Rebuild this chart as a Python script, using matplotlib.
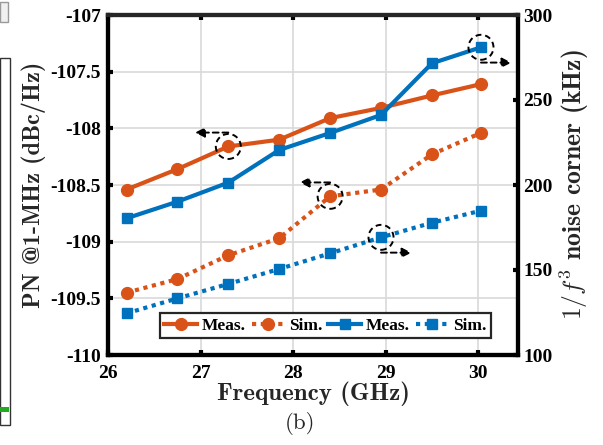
import matplotlib
matplotlib.use("Agg")
import matplotlib.pyplot as plt
from matplotlib.patches import Circle, Rectangle
from matplotlib.transforms import ScaledTranslation, offset_copy
from matplotlib.lines import Line2D
from matplotlib.font_manager import FontProperties

freq = [26.2, 26.75, 27.3, 27.85, 28.4, 28.95, 29.5, 30.03]
pn_meas = [-108.54, -108.36, -108.16, -108.10, -107.91, -107.82, -107.71, -107.61]
pn_sim = [-109.45, -109.33, -109.12, -108.97, -108.60, -108.54, -108.23, -108.04]
fc_meas = [180.4, 190.2, 201.4, 220.6, 230.6, 241.2, 271.6, 281.0]
fc_sim = [124.5, 133.3, 141.8, 150.6, 159.8, 169.2, 177.8, 184.9]
xticks = [26, 27, 28, 29, 30]
yticks_left = [-110, -109.5, -109, -108.5, -108, -107.5, -107]
ylabels_left = ['-110', '-109.5', '-109', '-108.5', '-108', '-107.5', '-107']
yticks_right = [100, 150, 200, 250, 300]
legend_labels = ['Meas.', 'Sim.', 'Meas.', 'Sim.']

ORANGE = '#D95319'
BLUE = '#0072BD'
plt.rcParams['mathtext.fontset'] = 'cm'

fig = plt.figure(figsize=(6.03, 4.45), dpi=100)
ax = fig.add_axes([108/603, 1-355/445, 410/603, 340/445])
ax2 = ax.twinx()

dotted = (0, (1, 1.1))
ax.plot(freq, pn_meas, '-o', color=ORANGE, lw=3, ms=8.5, zorder=3)
ax.plot(freq, pn_sim, linestyle=dotted, marker='o', color=ORANGE, lw=3, ms=8.5, zorder=3)
ax2.plot(freq, fc_meas, '-s', color=BLUE, lw=3, ms=7.5, zorder=3)
ax2.plot(freq, fc_sim, linestyle=dotted, marker='s', color=BLUE, lw=3, ms=7.5, zorder=3)

ax.set_xlim(26, 30.43)
ax.set_ylim(-110, -107)
ax2.set_ylim(100, 300)
ax.set_xticks(xticks)
ax.set_yticks(yticks_left)
ax.set_yticklabels(ylabels_left)
ax2.set_yticks(yticks_right)

ax.grid(True, color='#d9d9d9', lw=1.2, zorder=0)
ax.set_axisbelow(True)

tickfp = FontProperties(family='Liberation Serif', weight='bold', size=14)
for a in (ax, ax2):
    for lab in a.get_xticklabels() + a.get_yticklabels():
        lab.set_fontproperties(tickfp)
    for s in a.spines.values():
        s.set_linewidth(3)
        s.set_color('black')
    a.spines['top'].set_color('#262626')
ax.tick_params(axis='both', direction='in', length=3.5, width=3, pad=5, top=True, colors='black')
ax.tick_params(axis='x', pad=7)
ax2.tick_params(axis='y', direction='in', length=3.5, width=3, pad=4)

ax.set_xlabel('Frequency (GHz)', labelpad=0, family='cmb10', size=18, color='#262626')
ax.set_ylabel('PN @1-MHz (dBc/Hz)', labelpad=3, family='cmb10', size=17.5, color='#262626')
ax2.set_ylabel(r'$1/f^3$ noise corner (kHz)', labelpad=3,
               family='cmb10', size=18.5, color='#262626')
fig.text(0.497, 0.049, '(b)', ha='center', va='center', family='cmr10', size=16.5, color='#262626')

# annotations: dashed circles with arrows
def mark(a, x, y, dx_tail, dy, dx_head):
    tr = fig.dpi_scale_trans + ScaledTranslation(x, y, a.transData)
    c = Circle((0, 0), 0.125, transform=tr, fill=False, ec='black', lw=1.4, ls=(0, (3, 2)), zorder=6)
    fig.add_artist(c)
    a.annotate('', xy=(x, y), xytext=(x, y),
               xycoords=offset_copy(a.transData, fig=fig, x=dx_head, y=dy, units='points'),
               textcoords=offset_copy(a.transData, fig=fig, x=dx_tail, y=dy, units='points'),
               arrowprops=dict(arrowstyle='-|>', color='black', lw=1.4, ls=(0, (3, 2)),
                               mutation_scale=14, shrinkA=0, shrinkB=0), zorder=6)

mark(ax, freq[2], pn_meas[2], 0, 10, -24)
mark(ax, freq[4], pn_sim[4], 0, 10, -22)
mark(ax2, freq[7], fc_meas[7], 0, -11, 22)
mark(ax2, freq[5], fc_sim[5], 0, -11, 22)

handles = [
    Line2D([], [], color=ORANGE, lw=3, marker='o', ms=8.5),
    Line2D([], [], color=ORANGE, lw=3, marker='o', ms=8.5, linestyle=dotted),
    Line2D([], [], color=BLUE, lw=3, marker='s', ms=7.5),
    Line2D([], [], color=BLUE, lw=3, marker='s', ms=7.5, linestyle=dotted),
]
leg = ax2.legend(handles, legend_labels, loc='lower center', bbox_to_anchor=(0.53, 0.05),
                 ncol=4, frameon=True, fancybox=False, edgecolor='#262626', framealpha=1,
                 prop=dict(family='Liberation Serif', weight='bold', size=12.5),
                 handlelength=1.9, handletextpad=0.25, columnspacing=0.35,
                 borderpad=0.25, borderaxespad=0)
leg.get_frame().set_linewidth(1.6)
leg.set_zorder(10)

# screenshot remnants at the left edge
fig.add_artist(Rectangle((0, 1-22/445), 8/603, 20/445, transform=fig.transFigure,
                         fill=True, fc='#f0f0f0', ec='#999999', lw=1))
fig.add_artist(Rectangle((0, 1-425/445), 10/603, 367/445, transform=fig.transFigure,
                         fill=True, fc='white', ec='#333333', lw=1))
fig.add_artist(Rectangle((0, 1-412/445), 9/603, 5/445, transform=fig.transFigure,
                         fill=True, fc='#22aa22', ec='none'))

fig.savefig('out.png', dpi=100)
